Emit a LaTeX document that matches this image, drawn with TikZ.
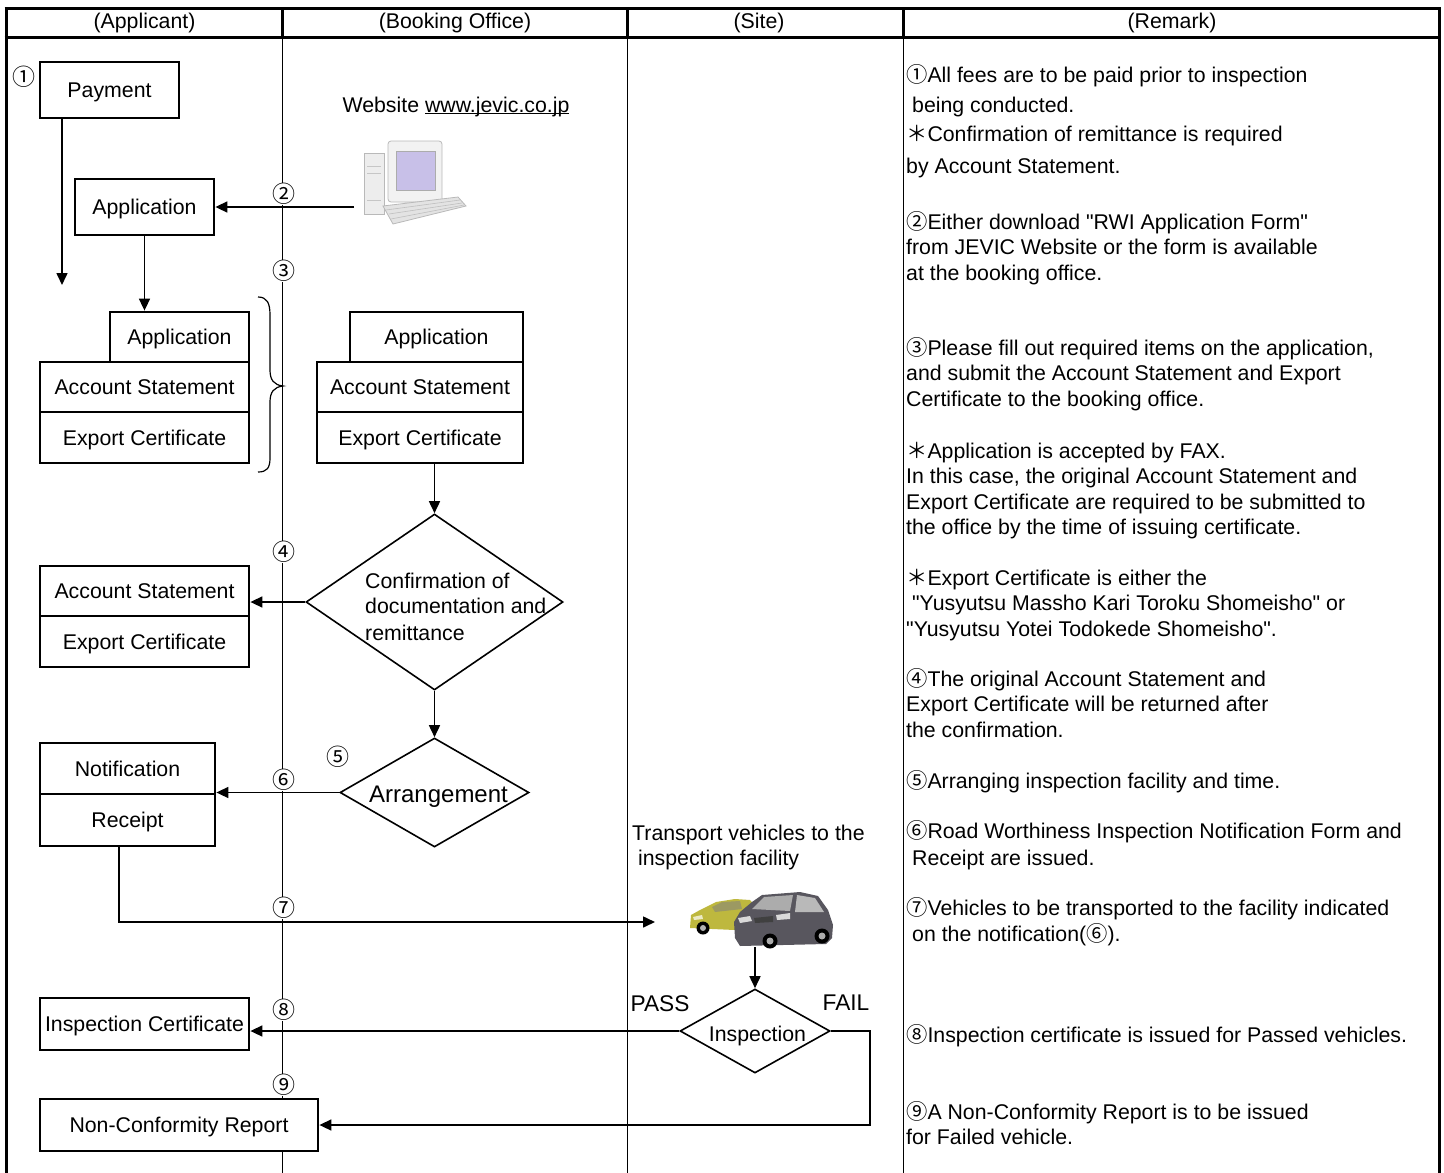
\documentclass[tikz,border=0pt]{standalone}
\usepackage{fontspec}
\setmainfont{Liberation Sans}[Ligatures=TeXOff]
\newfontfamily\cjk{Noto Sans CJK JP}
\usetikzlibrary{arrows.meta,shapes.geometric}
\newcommand\cn[1]{{\cjk #1}}
\definecolor{lav}{RGB}{200,192,232}
\definecolor{carY}{RGB}{190,184,62}
\definecolor{carG}{RGB}{88,86,94}
\tikzset{
  txt/.style={font=\fontsize{21.3}{25.6}\selectfont, inner sep=0pt},
  box/.style={txt, draw, fill=white, line width=2.8pt, text height=15.3pt, text depth=0pt},
  arr/.style={line width=1.6pt, -{Triangle[length=12pt,width=11pt]}},
  dia/.style={diamond, draw, line width=1.6pt, inner sep=0pt},
  num/.style={font=\cjk\fontsize{23}{27}\selectfont, fill=white, inner sep=0.6pt},
  rem/.style={txt, anchor=base west},
  vline/.style={line width=1pt},
  frame/.style={line width=3pt},
  braceline/.style={line width=1.2pt},
}
\begin{document}
\begin{tikzpicture}[x=1pt,y=-1pt]
\useasboundingbox (0,0) rectangle (1444,1173);
% ---------- frame ----------
\draw[vline] (282,37) -- (282,1173);
\draw[vline] (627,37) -- (627,1173);
\draw[vline] (903,37) -- (903,1173);
\draw[frame] (4.5,8) -- (1440.5,8);
\draw[frame] (4.5,37) -- (1440.5,37);
\draw[frame] (6,8) -- (6,1173);
\draw[frame] (1439,8) -- (1439,1173);
\draw[frame] (282,8) -- (282,37);
\draw[frame] (627,8) -- (627,37);
\draw[frame] (903,8) -- (903,37);
\node[txt, anchor=base] (h1) at (144.5,28) {(Applicant)};
\node[txt, anchor=base] (h2) at (455,28) {(Booking Office)};
\node[txt, anchor=base] (h3) at (759,28) {(Site)};
\node[txt, anchor=base] (h4) at (1172,28) {(Remark)};
% ---------- boxes ----------
\node[box, minimum width=139pt, minimum height=56pt] (pay) at (109.5,90) {Payment};
\node[box, minimum width=139pt, minimum height=56pt] (app1) at (144.5,207) {Application};
\node[box, minimum width=139pt, minimum height=50pt] (appL) at (179.5,337) {Application};
\node[box, minimum width=209pt, minimum height=50pt] (accL) at (144.5,387) {Account Statement};
\node[box, minimum width=209pt, minimum height=51pt] (expL) at (144.5,437.5) {Export Certificate};
\node[box, minimum width=173pt, minimum height=50pt] (appR) at (436.5,337) {Application};
\node[box, minimum width=206pt, minimum height=50pt] (accR) at (420,387) {Account Statement};
\node[box, minimum width=206pt, minimum height=51pt] (expR) at (420,437.5) {Export Certificate};
\node[box, minimum width=209pt, minimum height=50pt] (accL2) at (144.5,591) {Account Statement};
\node[box, minimum width=209pt, minimum height=51pt] (expL2) at (144.5,641.5) {Export Certificate};
\node[box, minimum width=175pt, minimum height=51pt] (notif) at (127.5,768.5) {Notification};
\node[box, minimum width=175pt, minimum height=52pt] (rec) at (127.5,820) {Receipt};
\node[box, minimum width=209pt, minimum height=52pt] (icert) at (144.5,1024) {Inspection Certificate};
\node[box, minimum width=278pt, minimum height=52pt] (ncr) at (179,1125) {Non-Conformity Report};
% ---------- diamonds ----------
\node[dia, minimum width=257pt, minimum height=176pt] (conf) at (434.5,602) {};
\node[dia, minimum width=189pt, minimum height=109pt] (arrg) at (434.5,792.5) {};
\node[dia, minimum width=150pt, minimum height=84pt] (insp) at (755,1031) {};
\node[rem] (conf1) at (365,588) {Confirmation of};
\node[rem] (conf2) at (365,613) {documentation and};
\node[rem] (conf3) at (365,640) {remittance};
\node[txt, font=\fontsize{24}{28}\selectfont, anchor=base] (arrgt) at (438.5,802.5) {Arrangement};
\node[txt, anchor=base] (inspt) at (757.5,1041.5) {Inspection};
\node[txt, font=\fontsize{22.7}{27}\selectfont, anchor=base] (pass) at (660,1011) {PASS};
\node[txt, font=\fontsize{22.7}{27}\selectfont, anchor=base] (fail) at (846,1010) {FAIL};
\node[rem] (tr1) at (632,840) {Transport vehicles to the};
\node[rem] (tr2) at (632,865) {\hskip.28em inspection facility};
\node[txt, anchor=base] (web) at (456,112) {Website \underline{\smash{www.jevic.co.jp}}};
% ---------- brace ----------
\draw[braceline] (258,297) .. controls (267,297) and (270,303) .. (270,315) -- (270,370)
  .. controls (270,380) and (274,385) .. (283,386)
  .. controls (274,387) and (270,392) .. (270,402) -- (270,458)
  .. controls (270,468) and (267,472) .. (258,472);
% ---------- computer ----------
\filldraw[draw=gray!55, fill=gray!14, line width=0.8pt] (364,153) rectangle (384,214);
\draw[gray!45, line width=0.8pt] (367,166) -- (381,166) (367,173) -- (381,173) (367,200) -- (381,200);
\filldraw[draw=gray!55, fill=gray!10, line width=0.8pt, rounded corners=3pt] (388,141) rectangle (442,202);
\filldraw[draw=gray!65, fill=lav, line width=0.8pt] (396,151) rectangle (435,190);
\fill[gray!30] (405,202) -- (425,202) -- (428,207) -- (402,207) -- cycle;
\filldraw[draw=gray!55, fill=gray!22, line width=0.8pt] (383,206) -- (458,197) -- (466,206) -- (393,224) -- cycle;
\draw[gray!50, line width=0.6pt] (386,210) -- (460,200) (389,214) -- (462,203) (391,219) -- (464,205);
% ---------- cars ----------
\fill[carY] (690,928) -- (691,915) -- (700,910) -- (716,902) -- (735,899) -- (750,900) -- (757,908) -- (757,931) -- cycle;
\fill[gray!55!carY] (712,907) -- (722,902) -- (740,901) -- (742,909) -- (715,912) -- cycle;
\fill[white!70!carY] (693,917) -- (702,915) -- (703,919) -- (694,920) -- cycle;
\fill[black] (703,928) circle (6.5);
\fill[gray!60] (703,928) circle (3);
\fill[carG] (735,938) -- (734,922) -- (740,912) -- (752,902) -- (762,895) -- (800,892) -- (818,896) -- (828,910) -- (833,925) -- (832,938) -- (826,944) -- (740,946) -- cycle;
\fill[gray!65] (752,909) -- (764,897) -- (793,895) -- (790,911) -- cycle;
\fill[gray!55] (797,895) -- (815,898) -- (824,912) -- (795,912) -- cycle;
\fill[white!85!black] (738,918) -- (750,916) -- (752,921) -- (740,923) -- cycle;
\fill[white!85!black] (776,915) -- (790,913) -- (790,919) -- (777,920) -- cycle;
\fill[black!75] (754,918) -- (773,916) -- (773,922) -- (755,923) -- cycle;
\fill[black] (770,941) circle (7.5);
\fill[gray!65] (770,941) circle (3.5);
\fill[black] (822,936) circle (7.5);
\fill[gray!65] (822,936) circle (3.5);
% ---------- coordinates ----------
\coordinate (payEnd) at (62,285);
\coordinate (compL) at (354,207);
\coordinate (rA) at (119,922);
\coordinate (carsL) at (655,922);
\coordinate (carsB) at (755,947);
\coordinate (failC) at (870,1125);
% ---------- arrows ----------
\draw[arr] (pay.south -| payEnd) -- (payEnd);
\draw[arr] (compL) -- (compL -| app1.east);
\draw[arr] (app1.south) -- (app1.south |- appL.north);
\draw[arr] (conf.north |- expR.south) -- (conf.north);
\draw[arr] (conf.west) -- (conf.west -| accL2.east);
\draw[arr] (conf.south) -- (arrg.north);
\draw[arr] (arrg.west) -- (arrg.west -| notif.east);
\draw[arr] (rec.south -| rA) -- (rA) -- (carsL);
\draw[arr] (carsB) -- (insp.north);
\draw[arr] (insp.west) -- (insp.west -| icert.east);
\draw[arr] (insp.east) -| (failC) -- (ncr.east);
% ---------- step numbers ----------
\node[num] (n1) at (24,77) {①};
\node[num] (n2) at (284,194) {②};
\node[num] (n3) at (284,271) {③};
\node[num] (n4) at (284,552) {④};
\node[num] (n5) at (338,757) {⑤};
\node[num] (n6) at (284,780) {⑥};
\node[num] (n7) at (284,908) {⑦};
\node[num] (n8) at (284,1010) {⑧};
\node[num] (n9) at (284,1085) {⑨};
% ---------- remarks ----------
\node[rem] (r1) at (906,82) {\cn{①}All fees are to be paid prior to inspection};
\node[rem] (r2) at (906,112) {\hskip.28em being conducted.};
\node[rem] (r3) at (906,141) {\cn{＊}Confirmation of remittance is required};
\node[rem] (r4) at (906,173) {by Account Statement.};
\node[rem] (r5) at (906,229) {\cn{②}Either download "RWI Application Form"};
\node[rem] (r6) at (906,254) {from JEVIC Website or the form is available};
\node[rem] (r7) at (906,280) {at the booking office.};
\node[rem] (r8) at (906,355) {\cn{③}Please fill out required items on the application,};
\node[rem] (r9) at (906,380) {and submit the Account Statement and Export};
\node[rem] (r10) at (906,406) {Certificate to the booking office.};
\node[rem] (r11) at (906,458) {\cn{＊}Application is accepted by FAX.};
\node[rem] (r12) at (906,483) {In this case, the original Account Statement and};
\node[rem] (r13) at (906,509) {Export Certificate are required to be submitted to};
\node[rem] (r14) at (906,534) {the office by the time of issuing certificate.};
\node[rem] (r15) at (906,585) {\cn{＊}Export Certificate is either the};
\node[rem] (r16) at (906,610) {\hskip.28em "Yusyutsu Massho Kari Toroku Shomeisho" or};
\node[rem] (r17) at (906,636) {"Yusyutsu Yotei Todokede Shomeisho".};
\node[rem] (r18) at (906,686) {\cn{④}The original Account Statement and};
\node[rem] (r19) at (906,711) {Export Certificate will be returned after};
\node[rem] (r20) at (906,737) {the confirmation.};
\node[rem] (r21) at (906,788) {\cn{⑤}Arranging inspection facility and time.};
\node[rem] (r22) at (906,838) {\cn{⑥}Road Worthiness Inspection Notification Form and};
\node[rem] (r23) at (906,865) {\hskip.28em Receipt are issued.};
\node[rem] (r24) at (906,915) {\cn{⑦}Vehicles to be transported to the facility indicated};
\node[rem] (r25) at (906,941) {\hskip.28em on the notification(\cn{⑥}).};
\node[rem] (r26) at (906,1042) {\cn{⑧}Inspection certificate is issued for Passed vehicles.};
\node[rem] (r27) at (906,1119) {\cn{⑨}A Non-Conformity Report is to be issued};
\node[rem] (r28) at (906,1144) {for Failed vehicle.};
\end{tikzpicture}
\end{document}
